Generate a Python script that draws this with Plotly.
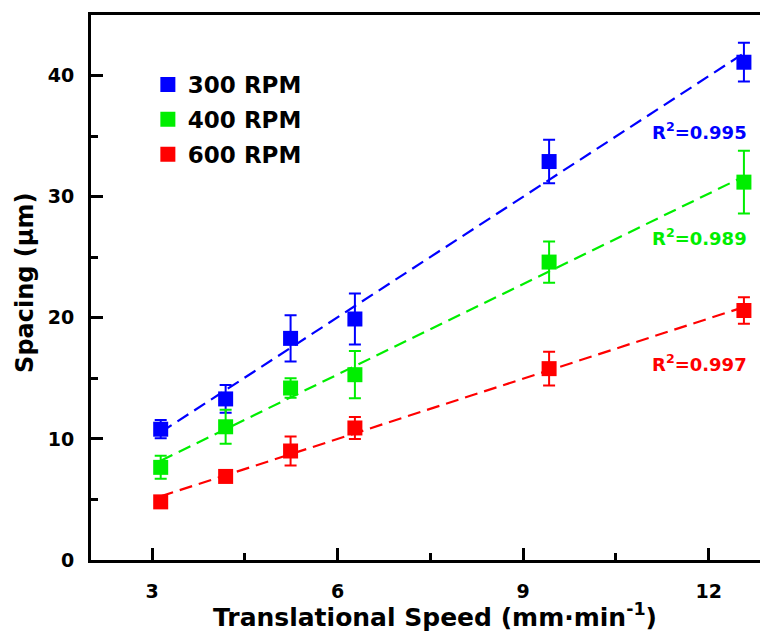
import numpy as np
import plotly.graph_objects as go

# Translational speed (mm/min) and measured spacing (um) with error bars
speed = [3.14, 4.19, 5.24, 6.28, 9.42, 12.57]

spacing_300 = [10.8, 13.3, 18.3, 19.9, 32.9, 41.1]
err_300 = [0.75, 1.15, 1.9, 2.1, 1.8, 1.6]

spacing_400 = [7.65, 11.0, 14.2, 15.3, 24.6, 31.2]
err_400 = [0.95, 1.4, 0.8, 1.95, 1.7, 2.6]

spacing_600 = [4.8, 6.9, 9.0, 10.9, 15.8, 20.6]
err_600 = [0.3, 0.45, 1.2, 0.9, 1.4, 1.1]

series_names = ["300 RPM", "400 RPM", "600 RPM"]
r2_labels = ["R<sup>2</sup>=0.995", "R<sup>2</sup>=0.989", "R<sup>2</sup>=0.997"]
r2_label_y = [35.4, 26.7, 16.3]

colors = ["#0000FF", "#00EE00", "#FF0000"]
FONT = "DejaVu Sans"

fig = go.Figure()

all_series = [spacing_300, spacing_400, spacing_600]
all_errs = [err_300, err_400, err_600]

# linear fits (dashed)
for ys, col in zip(all_series, colors):
    slope, icpt = np.polyfit(speed, ys, 1)
    xf = np.array([speed[0], speed[-1]])
    fig.add_trace(go.Scatter(
        x=xf, y=slope * xf + icpt, mode="lines",
        line=dict(color=col, width=2.2, dash="13px,7px"),
        showlegend=False, hoverinfo="skip"))

# data points with error bars
for name, ys, es, col in zip(series_names, all_series, all_errs, colors):
    fig.add_trace(go.Scatter(
        x=speed, y=ys, mode="markers", name=name, legendgroup=name,
        marker=dict(symbol="square", size=15, color=col, line=dict(width=0)),
        error_y=dict(type="data", array=es, visible=True, color=col,
                     thickness=2, width=6)))

# R^2 labels
for txt, yy, col in zip(r2_labels, r2_label_y, colors):
    fig.add_annotation(x=12.66, y=yy, xref="x", yref="y", text=txt,
                       showarrow=False, xanchor="right", yanchor="middle",
                       font=dict(family=FONT, size=18, color=col, weight="bold"))

# axis titles
fig.add_annotation(x=0.514, y=-0.101, xref="paper", yref="paper",
                   text="Translational Speed (mm·min<sup>-1</sup>)",
                   showarrow=False, xanchor="center", yanchor="middle",
                   font=dict(family=FONT, size=25, color="black", weight="bold"))
fig.add_annotation(x=-0.099, y=0.508, xref="paper", yref="paper",
                   text="Spacing (μm)", textangle=-90,
                   showarrow=False, xanchor="center", yanchor="middle",
                   font=dict(family=FONT, size=24, color="black", weight="bold"))

axis_common = dict(
    showgrid=False, zeroline=False, showline=True, linecolor="black",
    linewidth=3, ticks="inside", ticklen=12, tickwidth=2.5, tickcolor="black",
    tickfont=dict(family=FONT, size=19, color="black", weight="bold"),
)

fig.update_xaxes(range=[2.013, 12.83], tick0=0, dtick=3, mirror=True,
                 ticklabelstandoff=12,
                 minor=dict(ticks="inside", ticklen=7, tickwidth=2.5,
                            tickcolor="black", dtick=1.5, tick0=0),
                 **axis_common)
fig.update_yaxes(range=[0, 45], tick0=0, dtick=10, mirror=False,
                 ticklabelstandoff=10,
                 minor=dict(ticks="inside", ticklen=7, tickwidth=2.5,
                            tickcolor="black", dtick=5, tick0=0),
                 **axis_common)

fig.update_layout(
    width=760, height=637,
    margin=dict(l=91, r=0, t=15, b=77),
    paper_bgcolor="white", plot_bgcolor="white",
    showlegend=True,
    legend=dict(x=0.085, y=0.912, xanchor="left", yanchor="top",
                bgcolor="rgba(0,0,0,0)", tracegroupgap=2,
                font=dict(family=FONT, size=23, color="black", weight="bold")),
)

fig.write_html("out.html")
